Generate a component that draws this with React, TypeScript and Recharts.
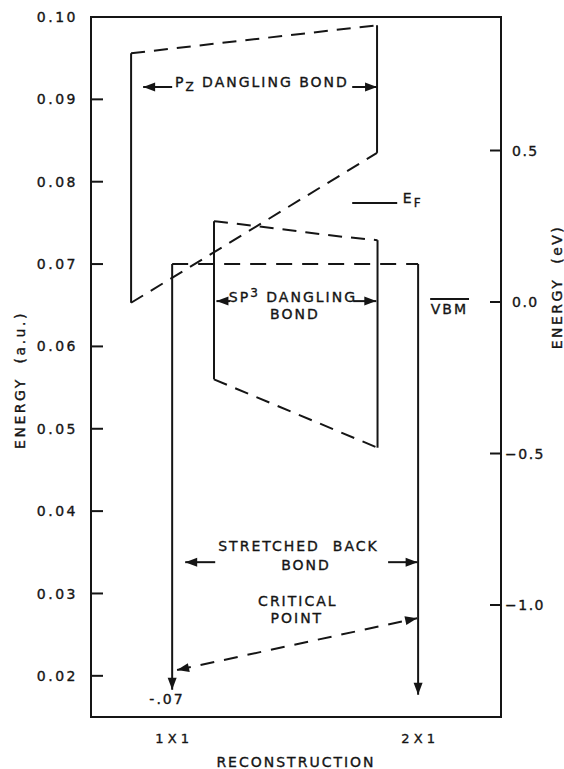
import React from 'react';
import { ComposedChart, Line, XAxis, YAxis, Scatter, ReferenceArea } from 'recharts';

const INK = '#151515';
const FONT = '"DejaVu Sans", "Liberation Sans", sans-serif';

// axes
const auTicks = [0.02, 0.03, 0.04, 0.05, 0.06, 0.07, 0.08, 0.09, 0.1];
const evTicks = [0.5, 0, -0.5, -1.0];
const xTicks = [1, 2];
const xTickNames = ['1 X 1', '2 X 1'];

// P_z dangling bond band
const pzLeftEdge = [{ x: 0.833, y: 0.0956 }, { x: 0.833, y: 0.0653 }];
const pzRightEdge = [{ x: 1.833, y: 0.099 }, { x: 1.833, y: 0.0835 }];
const pzTop = [{ x: 0.833, y: 0.0956 }, { x: 1.833, y: 0.099 }];
const pzBottom = [{ x: 0.833, y: 0.0653 }, { x: 1.833, y: 0.0835 }];

// sp3 dangling bond band
const spLeftEdge = [{ x: 1.17, y: 0.0752 }, { x: 1.17, y: 0.056 }];
const spRightEdge = [{ x: 1.835, y: 0.0729 }, { x: 1.835, y: 0.0477 }];
const spTop = [
  { x: 1.17, y: 0.0752 },
  { x: 1.345, y: 0.0746 },
  { x: 1.48, y: 0.0741 },
  { x: 1.7, y: 0.0733 },
  { x: 1.835, y: 0.0729 },
];
const spBottom = [{ x: 1.17, y: 0.056 }, { x: 1.835, y: 0.0477 }];

// stretched back bond
const backTop = [{ x: 1, y: 0.07 }, { x: 2, y: 0.07 }];
const back1x1 = [{ x: 1, y: 0.07 }, { x: 1, y: 0.0183, tip: true }];
const back2x1 = [{ x: 2, y: 0.07 }, { x: 2, y: 0.0177, tip: true }];
const critical = [{ x: 1.02, y: 0.0207, tip: true }, { x: 1.996, y: 0.027, tip: true }];

// label arrows
const pzArrowL = [{ x: 1.0, y: 0.0915 }, { x: 0.882, y: 0.0915, tip: true }];
const pzArrowR = [{ x: 1.732, y: 0.0915 }, { x: 1.833, y: 0.0915, tip: true }];
const spArrowL = [{ x: 1.235, y: 0.0655 }, { x: 1.18, y: 0.0655, tip: true }];
const spArrowR = [{ x: 1.736, y: 0.0655 }, { x: 1.83, y: 0.0655, tip: true }];
const sbArrowL = [{ x: 1.175, y: 0.0338 }, { x: 1.053, y: 0.0338, tip: true }];
const sbArrowR = [{ x: 1.878, y: 0.0338 }, { x: 1.998, y: 0.0338, tip: true }];

// levels
const fermi = [{ x: 1.732, y: 0.0774 }, { x: 1.915, y: 0.0774 }];
const vbm = [{ x: 2.049, y: 0.01 }, { x: 2.207, y: 0.01 }];

// text notes
const notes = [
  { x: 1.365, y: 0.0915, parts: [['P', ''], ['Z', 'sub'], [' DANGLING BOND', '']] },
  { x: 1.491, y: 0.0654, parts: [['SP', ''], ['3', 'sup'], [' DANGLING', '']] },
  { x: 1.499, y: 0.0633, parts: [['BOND', '']] },
  { x: 1.938, y: 0.0774, parts: [['E', ''], ['F', 'sub']], start: true },
  { x: 2.127, y: 0.0639, parts: [['VBM', '']] },
  { x: 1.5135, y: 0.0352, parts: [['STRETCHED  BACK', '']] },
  { x: 1.544, y: 0.0328, parts: [['BOND', '']] },
  { x: 1.511, y: 0.0285, parts: [['CRITICAL', '']] },
  { x: 1.507, y: 0.0264, parts: [['POINT', '']] },
  { x: 0.979, y: 0.01655, parts: [['-.07', '']] },
];

const txt = { fill: INK, stroke: INK, strokeWidth: 0.35, fontFamily: FONT, fontSize: 14, letterSpacing: 2 };

function ArrowDot(props: any) {
  const { cx, cy, payload, index, points } = props;
  if (!payload || !payload.tip || cx == null) return <g key={'d' + index} />;
  let ang = 0;
  if (points && points.length > 1) {
    const from = index === 0 ? points[1] : points[index - 1];
    ang = Math.atan2(cy - from.y, cx - from.x);
  }
  const L = 12;
  const W = 4.5;
  const bx = cx - L * Math.cos(ang);
  const by = cy - L * Math.sin(ang);
  const px = -Math.sin(ang) * W;
  const py = Math.cos(ang) * W;
  return (
    <polygon
      key={'d' + index}
      points={`${cx},${cy} ${bx + px},${by + py} ${bx - px},${by - py}`}
      fill={INK}
    />
  );
}

function NoteShape(props: any) {
  const { cx, cy, payload } = props;
  return (
    <text
      x={cx}
      y={cy}
      dy="0.36em"
      textAnchor={payload.start ? 'start' : 'middle'}
      {...txt}
      style={{ whiteSpace: 'pre' }}
    >
      {payload.parts.map((p: string[], i: number) => {
        if (p[1] === 'sub') return <tspan key={i} dy={4} fontSize={12}>{p[0]}</tspan>;
        if (p[1] === 'sup') return <tspan key={i} dy={-5} fontSize={12}>{p[0]}</tspan>;
        const prev = i > 0 ? payload.parts[i - 1][1] : '';
        const back = prev === 'sub' ? -4 : prev === 'sup' ? 5 : 0;
        return <tspan key={i} dy={back}>{p[0]}</tspan>;
      })}
    </text>
  );
}

function AuTick({ x, y, payload }: any) {
  return (
    <g>
      <line x1={x} x2={x + 12} y1={y} y2={y} stroke={INK} strokeWidth={2} />
      <text x={x - 13} y={y} dy="0.36em" textAnchor="end" {...txt} letterSpacing={2.5}>
        {payload.value.toFixed(2)}
      </text>
    </g>
  );
}

function EvTick({ x, y, payload }: any) {
  const v = payload.value;
  const s = v < 0 ? '\u2212' + Math.abs(v).toFixed(1) : v.toFixed(1);
  return (
    <g>
      <line x1={x - 11} x2={x} y1={y} y2={y} stroke={INK} strokeWidth={2} />
      <text x={x + (v < 0 ? 4 : 11)} y={y} dy="0.36em" textAnchor="start" {...txt} letterSpacing={1.5}>
        {s}
      </text>
    </g>
  );
}

function XTick({ x, y, payload }: any) {
  const i = xTicks.indexOf(payload.value);
  return (
    <text x={x} y={y + 21} dy="0.36em" textAnchor="middle" {...txt} fontSize={13} letterSpacing={0}>
      {xTickNames[i]}
    </text>
  );
}

const solid = { stroke: INK, strokeWidth: 2, dot: ArrowDot, activeDot: false, isAnimationActive: false, yAxisId: 'au' } as any;
const dashed = { ...solid, strokeDasharray: '14 9' };

export default function App() {
  return (
    <div style={{ position: 'absolute', left: 0, top: 0, background: '#fff' }}>
      <ComposedChart width={564} height={769} margin={{ top: 17, right: 0, bottom: 0, left: 0 }}>
        <XAxis
          dataKey="x"
          type="number"
          domain={[0.67, 2.337]}
          ticks={xTicks}
          tick={XTick}
          tickLine={false}
          axisLine={false}
          tickSize={0}
          tickMargin={0}
          height={52}
          interval={0}
          label={{
            position: 'insideBottom',
            content: (p: any) => (
              <text x={p.viewBox.x + p.viewBox.width / 2} y={p.viewBox.y + 45} dy="0.36em" textAnchor="middle" {...txt}>
                RECONSTRUCTION
              </text>
            ),
          }}
        />
        <YAxis
          yAxisId="au"
          type="number"
          domain={[0.015, 0.1]}
          ticks={auTicks}
          tick={AuTick}
          tickLine={false}
          axisLine={false}
          tickSize={0}
          tickMargin={0}
          width={91}
          interval={0}
          label={{
            position: 'insideLeft',
            content: (p: any) => {
              const cx = 20;
              const cy = p.viewBox.y + p.viewBox.height / 2 + 13;
              return (
                <text x={cx} y={cy} dy="0.36em" textAnchor="middle" transform={`rotate(-90 ${cx} ${cy})`} {...txt} letterSpacing={2.5} style={{ whiteSpace: 'pre' }}>
                  ENERGY  (a.u.)
                </text>
              );
            },
          }}
        />
        <YAxis
          yAxisId="ev"
          orientation="right"
          type="number"
          domain={[-1.3696, 0.9406]}
          ticks={evTicks}
          tick={EvTick}
          tickLine={false}
          axisLine={false}
          tickSize={0}
          tickMargin={0}
          width={63}
          interval={0}
          label={{
            position: 'insideRight',
            content: (p: any) => {
              const cx = 557;
              const cy = p.viewBox.y + p.viewBox.height / 2 - 80;
              return (
                <text x={cx} y={cy} dy="0.36em" textAnchor="middle" transform={`rotate(-90 ${cx} ${cy})`} {...txt} letterSpacing={2.5} style={{ whiteSpace: 'pre' }}>
                  ENERGY  (eV)
                </text>
              );
            },
          }}
        />
        <ReferenceArea yAxisId="au" x1={0.67} x2={2.337} y1={0.015} y2={0.1} fill="none" stroke={INK} strokeWidth={2} />

        <Line {...solid} data={pzLeftEdge} dataKey="y" />
        <Line {...solid} data={pzRightEdge} dataKey="y" />
        <Line {...dashed} data={pzTop} dataKey="y" />
        <Line {...dashed} data={pzBottom} dataKey="y" />

        <Line {...solid} data={spLeftEdge} dataKey="y" />
        <Line {...solid} data={spRightEdge} dataKey="y" />
        <Line {...dashed} data={spTop} dataKey="y" type="monotone" />
        <Line {...dashed} data={spBottom} dataKey="y" />

        <Line {...dashed} data={backTop} dataKey="y" strokeDasharray="16 10" />
        <Line {...solid} data={back1x1} dataKey="y" />
        <Line {...solid} data={back2x1} dataKey="y" />
        <Line {...dashed} data={critical} dataKey="y" strokeDasharray="14 10" />

        <Line {...solid} data={pzArrowL} dataKey="y" />
        <Line {...solid} data={pzArrowR} dataKey="y" />
        <Line {...solid} data={spArrowL} dataKey="y" />
        <Line {...solid} data={spArrowR} dataKey="y" />
        <Line {...solid} data={sbArrowL} dataKey="y" />
        <Line {...solid} data={sbArrowR} dataKey="y" />

        <Line {...solid} data={fermi} dataKey="y" />
        <Line {...solid} yAxisId="ev" data={vbm} dataKey="y" />

        <Scatter yAxisId="au" data={notes} dataKey="y" shape={NoteShape} isAnimationActive={false} />
      </ComposedChart>
    </div>
  );
}
